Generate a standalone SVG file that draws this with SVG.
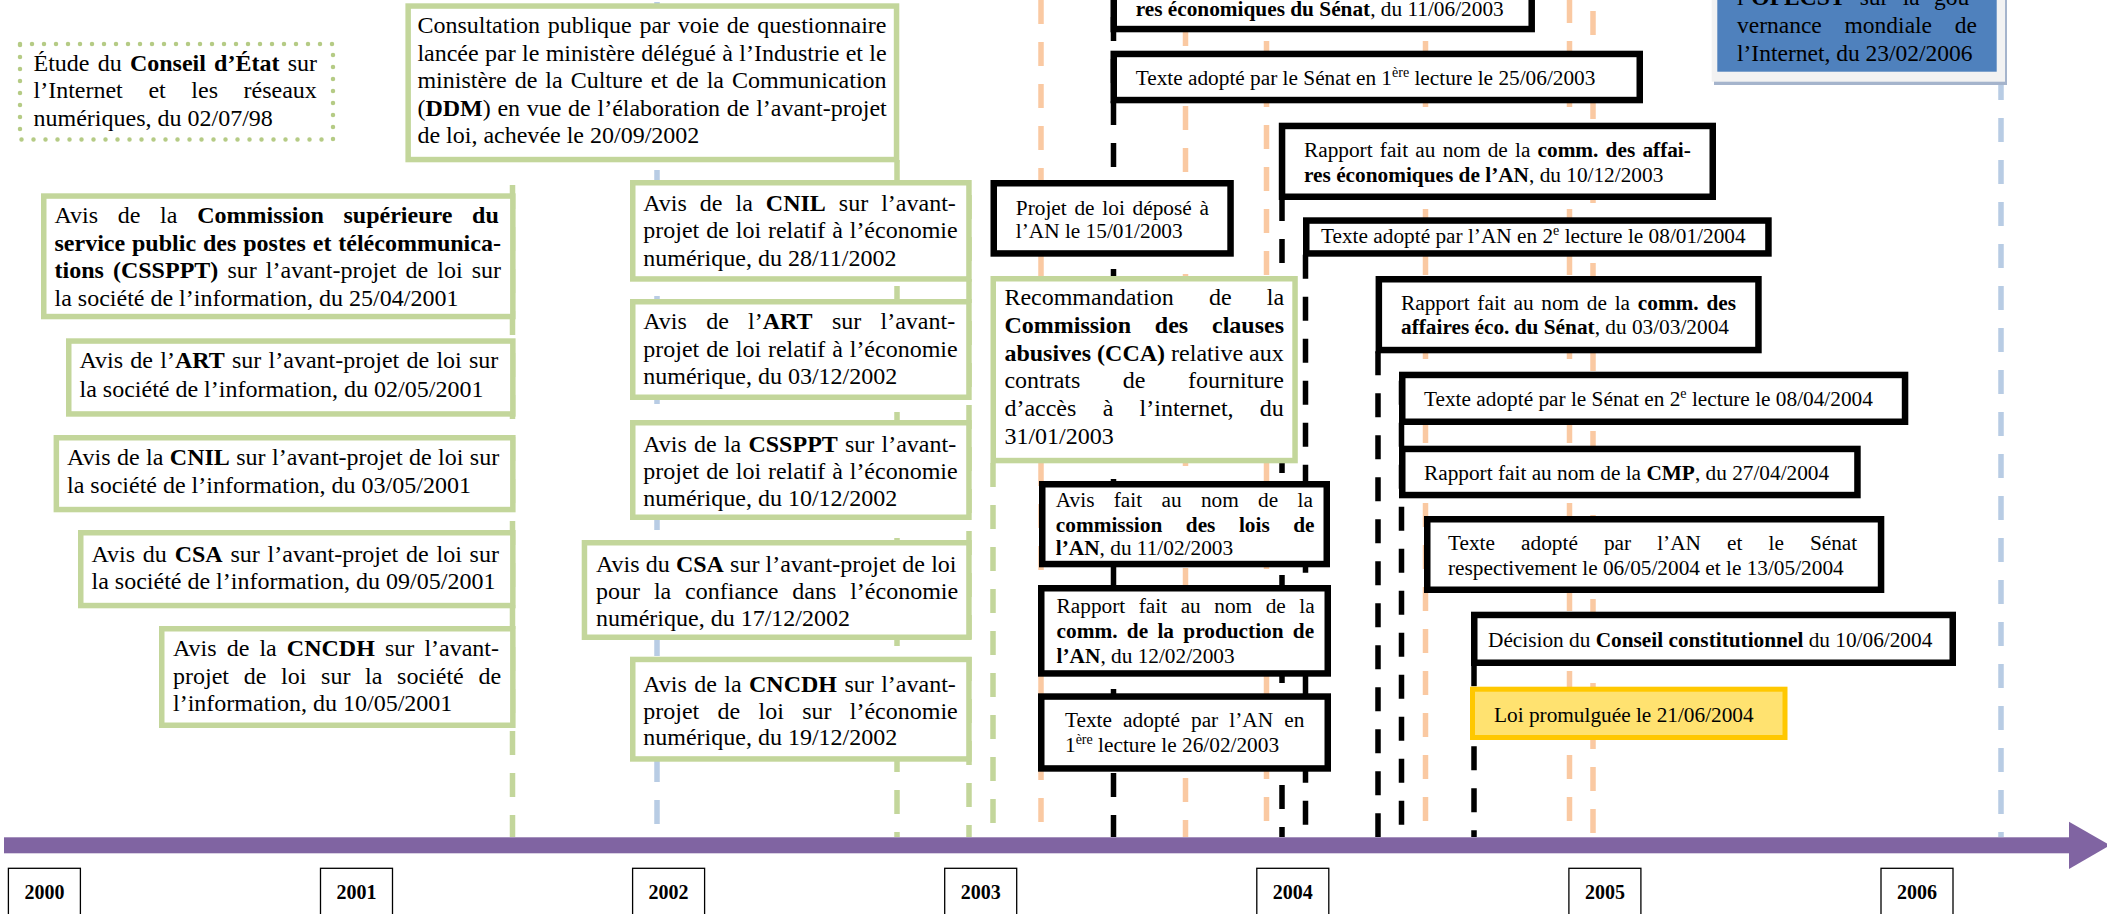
<svg xmlns="http://www.w3.org/2000/svg" width="2107" height="914" viewBox="0 0 2107 914">
<style>
text{font-family:"Liberation Serif","Times New Roman",serif;fill:#000}
.s24{font-size:24px}
.s21{font-size:21.3px}
.bd{font-weight:bold}
.gbox{fill:#fff;stroke:#C3D69B;stroke-width:5.5}
.bbox{fill:#fff;stroke:#000;stroke-width:6.5}
.ln{fill:none;stroke-width:5.5;stroke-dasharray:24 18}
.or{stroke:#FAC9A2}
.bl{stroke:#B8CCE4}
.gr{stroke:#C3D69B}
.bk{stroke:#000}
.yr{fill:#fff;stroke:#000;stroke-width:1.3}
.yt{font-size:20px;font-weight:bold;text-anchor:middle}
</style>
<rect width="2107" height="914" fill="#fff"/>
<g id="connectors">
<line class="ln or" x1="1041" y1="0" x2="1041" y2="837"/>
<line class="ln or" x1="1185.5" y1="-20" x2="1185.5" y2="837"/>
<line class="ln or" x1="1266.5" y1="-1" x2="1266.5" y2="837"/>
<line class="ln or" x1="1425.5" y1="-1" x2="1425.5" y2="837"/>
<line class="ln or" x1="1569.5" y1="-1" x2="1569.5" y2="837"/>
<line class="ln or" x1="1593" y1="11" x2="1593" y2="837"/>
<line class="ln bl" x1="657" y1="2" x2="657" y2="837"/>
<line class="ln bl" x1="2001" y1="76" x2="2001" y2="837"/>
<line class="ln gr" x1="512.5" y1="185" x2="512.5" y2="837"/>
<line class="ln gr" x1="897" y1="160" x2="897" y2="837"/>
<line class="ln gr" x1="969" y1="195" x2="969" y2="837"/>
<line class="ln gr" x1="993" y1="463" x2="993" y2="837"/>
<line class="ln bk" x1="1113.5" y1="-25" x2="1113.5" y2="837"/>
<line class="ln bk" x1="1282" y1="197" x2="1282" y2="837"/>
<line class="ln bk" x1="1305.5" y1="254.7" x2="1305.5" y2="837"/>
<line class="ln bk" x1="1378" y1="351.3" x2="1378" y2="837"/>
<line class="ln bk" x1="1401.5" y1="380.7" x2="1401.5" y2="837"/>
<line class="ln bk" x1="1474" y1="662.3" x2="1474" y2="837"/>
</g>
<g id="axis">
<rect x="4" y="837.3" width="2066" height="16" fill="#8064A2"/>
<polygon points="2069,821.7 2110,845.3 2069,869" fill="#8064A2"/>
</g>
<g id="etude-ce">
<rect x="20" y="44" width="313" height="95.5" fill="#fff" stroke="#B5CB85" stroke-width="4.5" stroke-dasharray="0 12" stroke-linecap="round"/>
<text class="s24" x="33.5" y="70.5" word-spacing="2.2">Étude du <tspan class="bd">Conseil d’État</tspan> sur</text>
<text class="s24" x="33.5" y="98.2" word-spacing="19.6">l’Internet et les réseaux</text>
<text class="s24" x="33.5" y="125.9">numériques, du 02/07/98</text>
</g>
<g id="csppt-2001">
<rect class="gbox" x="43.75" y="196.05" width="469.1" height="120.5"/>
<text class="s24" x="54.5" y="223" word-spacing="13.7">Avis de la <tspan class="bd">Commission supérieure du</tspan></text>
<text class="s24 bd" x="54.5" y="251" word-spacing="0.9">service public des postes et télécommunica-</text>
<text class="s24" x="54.5" y="278" word-spacing="3.1"><tspan class="bd">tions (CSSPPT)</tspan> sur l’avant-projet de loi sur</text>
<text class="s24" x="54.5" y="305.5">la société de l’information, du 25/04/2001</text>
</g>
<g id="art-2001">
<rect class="gbox" x="68.75" y="341.05" width="444.1" height="72.9"/>
<text class="s24" x="79.5" y="368.3" word-spacing="1.27">Avis de l’<tspan class="bd">ART</tspan> sur l’avant-projet de loi sur</text>
<text class="s24" x="79.5" y="396.7">la société de l’information, du 02/05/2001</text>
</g>
<g id="cnil-2001">
<rect class="gbox" x="56.35" y="437.75" width="456.5" height="71.8"/>
<text class="s24" x="67" y="465" word-spacing="0.42">Avis de la <tspan class="bd">CNIL</tspan> sur l’avant-projet de loi sur</text>
<text class="s24" x="67" y="493.3">la société de l’information, du 03/05/2001</text>
</g>
<g id="csa-2001">
<rect class="gbox" x="80.75" y="532.75" width="432.1" height="72.8"/>
<text class="s24" x="91.5" y="561.7" word-spacing="1.8">Avis du <tspan class="bd">CSA</tspan> sur l’avant-projet de loi sur</text>
<text class="s24" x="91.5" y="589.3">la société de l’information, du 09/05/2001</text>
</g>
<g id="cncdh-2001">
<rect class="gbox" x="161.75" y="628.75" width="351.1" height="96.5"/>
<text class="s24" x="173" y="656" word-spacing="4.1">Avis de la <tspan class="bd">CNCDH</tspan> sur l’avant-</text>
<text class="s24" x="173" y="683.7" word-spacing="8.7">projet de loi sur la société de</text>
<text class="s24" x="173" y="711.4">l’information, du 10/05/2001</text>
</g>
<g id="consultation-2002">
<rect class="gbox" x="408.15" y="6.05" width="488.4" height="153.5"/>
<text class="s24" x="417.4" y="33.3" word-spacing="1.7">Consultation publique par voie de questionnaire</text>
<text class="s24" x="417.4" y="60.8" word-spacing="0.35">lancée par le ministère délégué à l’Industrie et le</text>
<text class="s24" x="417.4" y="88.3" word-spacing="2">ministère de la Culture et de la Communication</text>
<text class="s24" x="417.4" y="115.8" word-spacing="0.7">(<tspan class="bd">DDM</tspan>) en vue de l’élaboration de l’avant-projet</text>
<text class="s24" x="417.4" y="143.3">de loi, achevée le 20/09/2002</text>
</g>
<g id="cnil-2002">
<rect class="gbox" x="632.75" y="182.75" width="336.2" height="96.2"/>
<text class="s24" x="643.3" y="210.5" word-spacing="7">Avis de la <tspan class="bd">CNIL</tspan> sur l’avant-</text>
<text class="s24" x="643.3" y="238" word-spacing="0.9">projet de loi relatif à l’économie</text>
<text class="s24" x="643.3" y="265.5">numérique, du 28/11/2002</text>
</g>
<g id="art-2002">
<rect class="gbox" x="632.75" y="301.75" width="336.2" height="95.5"/>
<text class="s24" x="643.3" y="329" word-spacing="13.3">Avis de l’<tspan class="bd">ART</tspan> sur l’avant-</text>
<text class="s24" x="643.3" y="357" word-spacing="0.9">projet de loi relatif à l’économie</text>
<text class="s24" x="643.3" y="384">numérique, du 03/12/2002</text>
</g>
<g id="csppt-2002">
<rect class="gbox" x="632.75" y="422.75" width="336.2" height="94.5"/>
<text class="s24" x="643.3" y="451.5" word-spacing="1.2">Avis de la <tspan class="bd">CSSPPT</tspan> sur l’avant-</text>
<text class="s24" x="643.3" y="479" word-spacing="0.9">projet de loi relatif à l’économie</text>
<text class="s24" x="643.3" y="506">numérique, du 10/12/2002</text>
</g>
<g id="csa-2002">
<rect class="gbox" x="584.45" y="542.75" width="384.5" height="94.5"/>
<text class="s24" x="596" y="571.5" word-spacing="0.17">Avis du <tspan class="bd">CSA</tspan> sur l’avant-projet de loi</text>
<text class="s24" x="596" y="599" word-spacing="7.9">pour la confiance dans l’économie</text>
<text class="s24" x="596" y="626">numérique, du 17/12/2002</text>
</g>
<g id="cncdh-2002">
<rect class="gbox" x="632.75" y="659.45" width="336.2" height="99.5"/>
<text class="s24" x="643.3" y="691.5" word-spacing="1.4">Avis de la <tspan class="bd">CNCDH</tspan> sur l’avant-</text>
<text class="s24" x="643.3" y="718.5" word-spacing="12.3">projet de loi sur l’économie</text>
<text class="s24" x="643.3" y="745">numérique, du 19/12/2002</text>
</g>
<g id="cca-2003">
<rect class="gbox" x="993.25" y="278.75" width="301.8" height="181.8"/>
<text class="s24" x="1004.4" y="305" word-spacing="29.2">Recommandation de la</text>
<text class="s24 bd" x="1004.4" y="332.8" word-spacing="17.8">Commission des clauses</text>
<text class="s24" x="1004.4" y="360.6"><tspan class="bd">abusives (CCA)</tspan> relative aux</text>
<text class="s24" x="1004.4" y="388.4" word-spacing="36.5">contrats de fourniture</text>
<text class="s24" x="1004.4" y="416.2" word-spacing="20.3">d’accès à l’internet, du</text>
<text class="s24" x="1004.4" y="444">31/01/2003</text>
</g>
<g id="rapport-senat-2003">
<rect class="bbox" x="1113.75" y="-36.75" width="417.95" height="65.8"/>
<text class="s21" x="1135.7" y="16"><tspan class="bd">res économiques du Sénat</tspan>, du 11/06/2003</text>
</g>
<g id="senat-1ere-lecture">
<rect class="bbox" x="1113.75" y="53.95" width="526" height="46.1"/>
<text class="s21" x="1135.7" y="85">Texte adopté par le Sénat en 1<tspan dy="-8" font-size="14">ère</tspan><tspan dy="8"> lecture le 25/06/2003</tspan></text>
</g>
<g id="rapport-an-2003">
<rect class="bbox" x="1282.05" y="125.95" width="430.7" height="70.8"/>
<text class="s21" x="1304" y="156.7" word-spacing="1.86">Rapport fait au nom de la <tspan class="bd">comm. des affai-</tspan></text>
<text class="s21" x="1304" y="181.7"><tspan class="bd">res économiques de l’AN</tspan>, du 10/12/2003</text>
</g>
<g id="an-2e-lecture">
<rect class="bbox" x="1306.25" y="220.55" width="462.2" height="32.9"/>
<text class="s21" x="1321" y="243.3">Texte adopté par l’AN en 2<tspan dy="-8" font-size="14">e</tspan><tspan dy="8"> lecture le 08/01/2004</tspan></text>
</g>
<g id="rapport-senat-2004">
<rect class="bbox" x="1378.85" y="279.25" width="379.6" height="70.8"/>
<text class="s21" x="1401" y="309.5" word-spacing="2.4">Rapport fait au nom de la <tspan class="bd">comm. des</tspan></text>
<text class="s21" x="1401" y="334"><tspan class="bd">affaires éco. du Sénat</tspan>, du 03/03/2004</text>
</g>
<g id="senat-2e-lecture">
<rect class="bbox" x="1402.25" y="374.95" width="502.8" height="46.8"/>
<text class="s21" x="1424" y="406">Texte adopté par le Sénat en 2<tspan dy="-8" font-size="14">e</tspan><tspan dy="8"> lecture le 08/04/2004</tspan></text>
</g>
<g id="rapport-cmp">
<rect class="bbox" x="1402.25" y="448.95" width="455.2" height="46.1"/>
<text class="s21" x="1424" y="480">Rapport fait au nom de la <tspan class="bd">CMP</tspan>, du 27/04/2004</text>
</g>
<g id="adoption-finale">
<rect class="bbox" x="1427.25" y="519.25" width="453.8" height="70.5"/>
<text class="s21" x="1448" y="550" word-spacing="20.75">Texte adopté par l’AN et le Sénat</text>
<text class="s21" x="1448" y="574.5">respectivement le 06/05/2004 et le 13/05/2004</text>
</g>
<g id="decision-cc">
<rect class="bbox" x="1474.25" y="614.95" width="478.5" height="47.8"/>
<text class="s21" x="1488" y="646.7">Décision du <tspan class="bd">Conseil constitutionnel</tspan> du 10/06/2004</text>
</g>
<g id="loi-promulguee">
<rect x="1472.5" y="689.2" width="312.5" height="48.3" fill="#FFE270" stroke="#FFC800" stroke-width="5"/>
<text class="s21" x="1494" y="721.7">Loi promulguée le 21/06/2004</text>
</g>
<g id="projet-de-loi">
<rect class="bbox" x="993.75" y="183.25" width="236.8" height="70.2"/>
<text class="s21" x="1015.8" y="215" word-spacing="2.45">Projet de loi déposé à</text>
<text class="s21" x="1015.8" y="238.3">l’AN le 15/01/2003</text>
</g>
<g id="avis-lois-an">
<rect class="bbox" x="1042.25" y="484.25" width="284.5" height="79.8"/>
<text class="s21" x="1055.8" y="506.7" word-spacing="14">Avis fait au nom de la</text>
<text class="s21 bd" x="1055.8" y="531.7" word-spacing="18.2">commission des lois de</text>
<text class="s21" x="1055.8" y="555"><tspan class="bd">l’AN</tspan>, du 11/02/2003</text>
</g>
<g id="rapport-production-an">
<rect class="bbox" x="1041.25" y="588.25" width="286.5" height="85.2"/>
<text class="s21" x="1056.6" y="613.3" word-spacing="8.2">Rapport fait au nom de la</text>
<text class="s21 bd" x="1056.6" y="638.3" word-spacing="4">comm. de la production de</text>
<text class="s21" x="1056.6" y="663.3"><tspan class="bd">l’AN</tspan>, du 12/02/2003</text>
</g>
<g id="an-1ere-lecture">
<rect class="bbox" x="1041.25" y="696.55" width="286.5" height="71.9"/>
<text class="s21" x="1065" y="726.7" word-spacing="5.8">Texte adopté par l’AN en</text>
<text class="s21" x="1065" y="751.7">1<tspan dy="-8" font-size="14">ère</tspan><tspan dy="8"> lecture le 26/02/2003</tspan></text>
</g>
<g id="opecst-2006">
<rect x="1714" y="-20" width="293" height="105" fill="#A5B4CC"/>
<rect x="1711.7" y="-20" width="293.3" height="101.7" fill="#F2F2F2"/>
<rect x="1717.3" y="-20" width="279.4" height="91.7" fill="#4F81BD"/>
<text x="1737" y="5.4" font-size="23.5" word-spacing="8.4">l’<tspan class="bd">OPECST</tspan> sur la gou-</text>
<text x="1737" y="33" font-size="23.5" word-spacing="16.9">vernance mondiale de</text>
<text x="1737" y="60.7" font-size="23.5">l’Internet, du 23/02/2006</text>
</g>
<g id="year-2000"><rect class="yr" x="8.4" y="868.3" width="72" height="60"/><text class="yt" x="44.4" y="899">2000</text></g>
<g id="year-2001"><rect class="yr" x="320.5" y="868.3" width="72" height="60"/><text class="yt" x="356.5" y="899">2001</text></g>
<g id="year-2002"><rect class="yr" x="632.6" y="868.3" width="72" height="60"/><text class="yt" x="668.6" y="899">2002</text></g>
<g id="year-2003"><rect class="yr" x="944.7" y="868.3" width="72" height="60"/><text class="yt" x="980.7" y="899">2003</text></g>
<g id="year-2004"><rect class="yr" x="1256.8" y="868.3" width="72" height="60"/><text class="yt" x="1292.8" y="899">2004</text></g>
<g id="year-2005"><rect class="yr" x="1568.9" y="868.3" width="72" height="60"/><text class="yt" x="1604.9" y="899">2005</text></g>
<g id="year-2006"><rect class="yr" x="1881" y="868.3" width="72" height="60"/><text class="yt" x="1917" y="899">2006</text></g>
</svg>
